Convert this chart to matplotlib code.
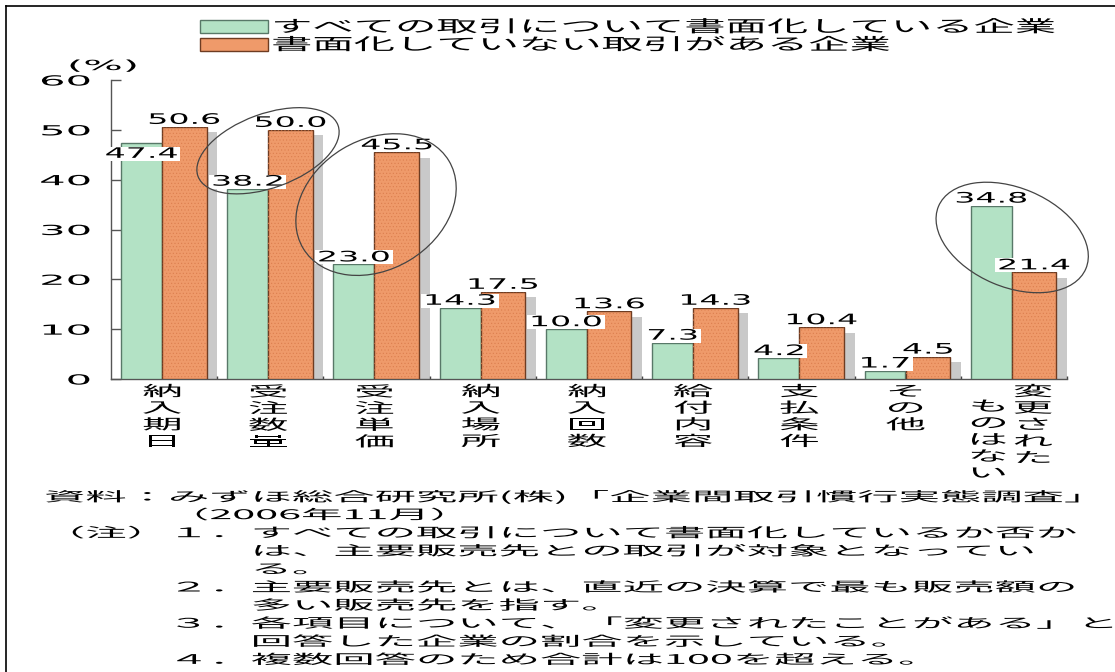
""" Grouped bar chart: items changed after ordering, split by whether
    the firm puts all transactions in writing """

import matplotlib
matplotlib.use("Agg")
import matplotlib.pyplot as plt
import numpy as np
from matplotlib.lines import Line2D
from matplotlib.patches import Ellipse
from matplotlib.path import Path
from matplotlib.patheffects import AbstractPathEffect
from matplotlib.transforms import Affine2D, IdentityTransform

plt.rcParams['font.family'] = ['Noto Sans CJK JP', 'DejaVu Sans']
plt.rcParams['hatch.linewidth'] = 0.4

categories = ["納入期日", "受注数量", "受注単価", "納入場所", "納入回数",
              "給付内容", "支払条件", "その他", "変更されたものはない"]
all_written = [47.4, 38.2, 23.0, 14.3, 10.0, 7.3, 4.2, 1.7, 34.8]
not_written = [50.6, 50.0, 45.5, 17.5, 13.6, 14.3, 10.4, 4.5, 21.4]
series_labels = ["すべての取引について書面化している企業",
                 "書面化していない取引がある企業"]
y_ticks = [0, 10, 20, 30, 40, 50, 60]
unit_label = "(%)"
note_lines = [
    "資料：みずほ総合研究所(株)「企業間取引慣行実態調査」",
    "　　　（2006年11月）",
    "（注）１．すべての取引について書面化しているか否か",
    "　　　　　は、主要販売先との取引が対象となってい",
    "　　　　　る。",
    "　　　２．主要販売先とは、直近の決算で最も販売額の",
    "　　　　　多い販売先を指す。",
    "　　　３．各項目について、「変更されたことがある」と",
    "　　　　　回答した企業の割合を示している。",
    "　　　４．複数回答のため合計は100を超える。",
]

W, H = 1115, 672
VALUE_STRETCH = 2.3


class Widen(AbstractPathEffect):
    """ Draw text glyphs stretched horizontally about the line anchor """

    def __init__(self, sx, anchor="left"):
        super().__init__()
        self._sx = sx
        self._anchor = anchor

    def draw_path(self, renderer, gc, tpath, affine, rgbFace=None):
        x0, y0 = affine.transform((0, 0))
        if self._anchor != "left" and len(tpath.vertices):
            ext = tpath.get_extents(affine)
            x0 = ext.x1 if self._anchor == "right" else 0.5 * (ext.x0 + ext.x1)
        stretch = Affine2D().translate(-x0, -y0).scale(self._sx, 1).translate(x0, y0)
        renderer.draw_path(gc, tpath, affine + stretch, rgbFace)


def wide_box(x0, y0, width, height, mutation_size):
    """ White label box widened to fit the stretched numbers """
    cx = x0 + width / 2
    half = width * VALUE_STRETCH / 2 + 2
    return Path([(cx - half, y0), (cx + half, y0), (cx + half, y0 + height),
                 (cx - half, y0 + height), (cx - half, y0)], closed=True)


def fig_xy(x, y):
    """ Pixel position (from top left) to figure fraction """
    return x / W, 1 - y / H


fig = plt.figure(figsize=(W / 100, H / 100), dpi=100)
ax = fig.add_axes([111 / W, 1 - 379 / H, (1067 - 111) / W, (379 - 80) / H])

n = len(categories)
x = np.arange(n)
gw, ow = 0.385, 0.42
green_x = x + 0.094
orange_x = x + 0.48

green = ax.bar(green_x, all_written, width=gw, align='edge', color='#B3E2C5',
               edgecolor='#587868', linewidth=1.0, zorder=3)
# grey drop shadow behind the orange bars
ax.bar(orange_x + 0.1, np.array(not_written) - 1.1, width=ow, align='edge',
       color='#C9C9C9', linewidth=0, zorder=1)
orange = ax.bar(orange_x, not_written, width=ow, align='edge', color='#EF9A6A',
                edgecolor='#6E3C22', linewidth=1.0, zorder=3)
ax.bar(orange_x, not_written, width=ow, align='edge', fill=False,
       edgecolor='#DC7E4E', linewidth=0, hatch='.....', zorder=3.5)

# value labels
for i, v in enumerate(all_written):
    dy = -13 if i == 0 else 0
    ax.annotate(f"{v:.1f}", xy=(green_x[i] + gw / 2, v), xytext=(0, dy),
                textcoords='offset points', ha='center', va='bottom',
                fontsize=10.4, family='DejaVu Sans', zorder=6,
                bbox=dict(boxstyle=wide_box, fc='white', ec='none'),
                path_effects=[Widen(VALUE_STRETCH, 'center')])
for i, v in enumerate(not_written):
    ax.annotate(f"{v:.1f}", xy=(orange_x[i] + ow / 2, v), xytext=(0, 0),
                textcoords='offset points', ha='center', va='bottom',
                fontsize=10.4, family='DejaVu Sans', zorder=6,
                bbox=dict(boxstyle=wide_box, fc='white', ec='none'),
                path_effects=[Widen(VALUE_STRETCH, 'center')])

# axes styling
ax.set_xlim(0, n)
ax.set_ylim(0, 60)
ax.set_yticks(y_ticks)
ax.set_yticklabels([str(t) for t in y_ticks])
ax.tick_params(axis='y', direction='in', length=7, width=1, color='#555555',
               pad=15, labelsize=10)
for t in ax.get_yticklabels():
    t.set_family('DejaVu Sans')
    t.set_path_effects([Widen(3.0, 'right')])
ax.set_xticks([])
ax.set_xticks(np.arange(1, n + 1), minor=True)
ax.tick_params(axis='x', which='minor', direction='in', length=2.5, width=1,
               color='#444444')
for side in ('top', 'right'):
    ax.spines[side].set_visible(False)
for side in ('left', 'bottom'):
    ax.spines[side].set_color('#555555')
    ax.spines[side].set_linewidth(1.0)

# vertical category labels, long ones split into columns right to left
for i, lab in enumerate(categories):
    cols = [lab[k:k + 5] for k in range(0, len(lab), 5)]
    if len(cols) == 1:
        places = [(i + 0.48, 0)]
    else:
        places = [(i + 0.68, 0), (i + 0.26, 1)]
    for col, (xc, drop) in zip(cols, places):
        ax.annotate("\n".join(col), xy=(xc, 0), xycoords=('data', 'axes fraction'),
                    xytext=(0, -4.3 - drop * 10.8), textcoords='offset points',
                    ha='center', va='top', fontsize=10.4, linespacing=1.24,
                    annotation_clip=False,
                    path_effects=[Widen(2.8, 'center')])

# ellipses picking out the notable pairs (data centre, size px, angle)
highlights = [(1.478, 45.8, 149, 74, 20), (2.495, 35.0, 170, 130, 31),
              (8.484, 28.4, 160, 99, -23)]
for hx, hy, hw, hh, ang in highlights:
    cx, cy = ax.transData.transform((hx, hy))
    fig.add_artist(Ellipse((cx, cy), hw, hh, angle=ang, fill=False,
                           ec='#444444', lw=0.9, zorder=7,
                           transform=IdentityTransform()))

# legend
leg = fig.legend([green, orange], series_labels, loc='upper left',
                 bbox_to_anchor=fig_xy(200, 19), frameon=False, fontsize=11.9,
                 handlelength=4.12, handleheight=0.85, handletextpad=0.18,
                 labelspacing=0.05, borderpad=0, borderaxespad=0)
for t in leg.get_texts():
    t.set_path_effects([Widen(2.5)])

fig.text(*fig_xy(103, 66), unit_label, ha='center', va='center', fontsize=10,
         family='DejaVu Sans', path_effects=[Widen(3.0, 'center')])

for k, line in enumerate(note_lines):
    fig.text(*fig_xy(44, 497 + 18.1 * k), line, ha='left', va='center',
             fontsize=9.6, path_effects=[Widen(3.1)])

# frame on top and left edges
fig.add_artist(Line2D([6 / W, 6 / W], [0, 1 - 6 / H], transform=fig.transFigure,
                      color='black', lw=1.2))
fig.add_artist(Line2D([6 / W, 1], [1 - 6 / H, 1 - 6 / H], transform=fig.transFigure,
                      color='black', lw=1.2))

fig.savefig("out.png", dpi=100)
